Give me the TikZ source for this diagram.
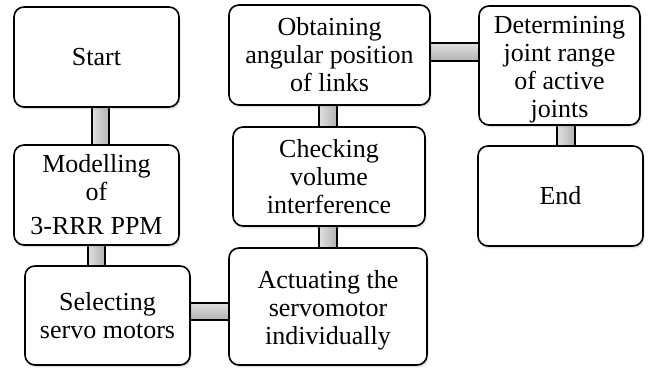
\documentclass[tikz,border=0pt]{standalone}
\usepackage{fontspec}
\setmainfont{Liberation Serif}
\usetikzlibrary{shadows,calc}
\pgfdeclarelayer{bg}
\pgfsetlayers{bg,main}
\newcommand{\lowtext}[1]{\raisebox{-4pt}[\height][\depth]{\begin{tabular}{@{}c@{}}#1\end{tabular}}}
\begin{document}
\begin{tikzpicture}[x=1pt,y=1pt,
 box/.style={draw, line width=1.6pt, rounded corners=10pt, fill=white, align=center, inner sep=0pt,
   font=\fontsize{26}{28}\selectfont,
   drop shadow={opacity=0.22, shadow xshift=1.5pt, shadow yshift=-2.5pt}},
 vbar/.style={draw, line width=1.2pt, left color=gray!25, right color=gray!60},
 hbar/.style={draw, line width=1.2pt, top color=gray!25, bottom color=gray!60}]
\useasboundingbox (0,0) rectangle (648,371);
\node[box, minimum width=165pt, minimum height=100pt] (start) at (96.5,314) {Start};
\node[box, minimum width=165pt, minimum height=100pt] (mod) at (96.5,176) {Modelling\\of\\[6pt]3-RRR PPM};
\node[box, minimum width=165pt, minimum height=99pt] (sel) at (107.5,55.5) {Selecting\\servo motors};
\node[box, minimum width=198pt, minimum height=117pt] (act) at (328,64.5) {\lowtext{Actuating the\\servomotor\\individually}};
\node[box, minimum width=192pt, minimum height=99pt] (chk) at (329,194.5) {Checking\\volume\\interference};
\node[box, minimum width=201pt, minimum height=100pt] (obt) at (329.5,316) {Obtaining\\angular position\\of links};
\node[box, minimum width=161pt, minimum height=119pt] (det) at (559.5,305.5) {\lowtext{Determining\\joint range\\of active\\joints}};
\node[box, minimum width=165pt, minimum height=100pt] (end) at (560.5,175) {End};
\begin{pgfonlayer}{bg}
\draw[vbar] (start.south -| 92,0) rectangle (mod.north -| 109,0);
\draw[vbar] (mod.south -| 88,0) rectangle (sel.north -| 105,0);
\draw[hbar] (sel.east |- 0,68) rectangle (act.west |- 0,51);
\draw[vbar] (act.north -| 319,0) rectangle (chk.south -| 337,0);
\draw[vbar] (chk.north -| 319,0) rectangle (obt.south -| 337,0);
\draw[hbar] (obt.east |- 0,328) rectangle (det.west |- 0,310);
\draw[vbar] (det.south -| 557,0) rectangle (end.north -| 575,0);
\end{pgfonlayer}
\end{tikzpicture}
\end{document}
